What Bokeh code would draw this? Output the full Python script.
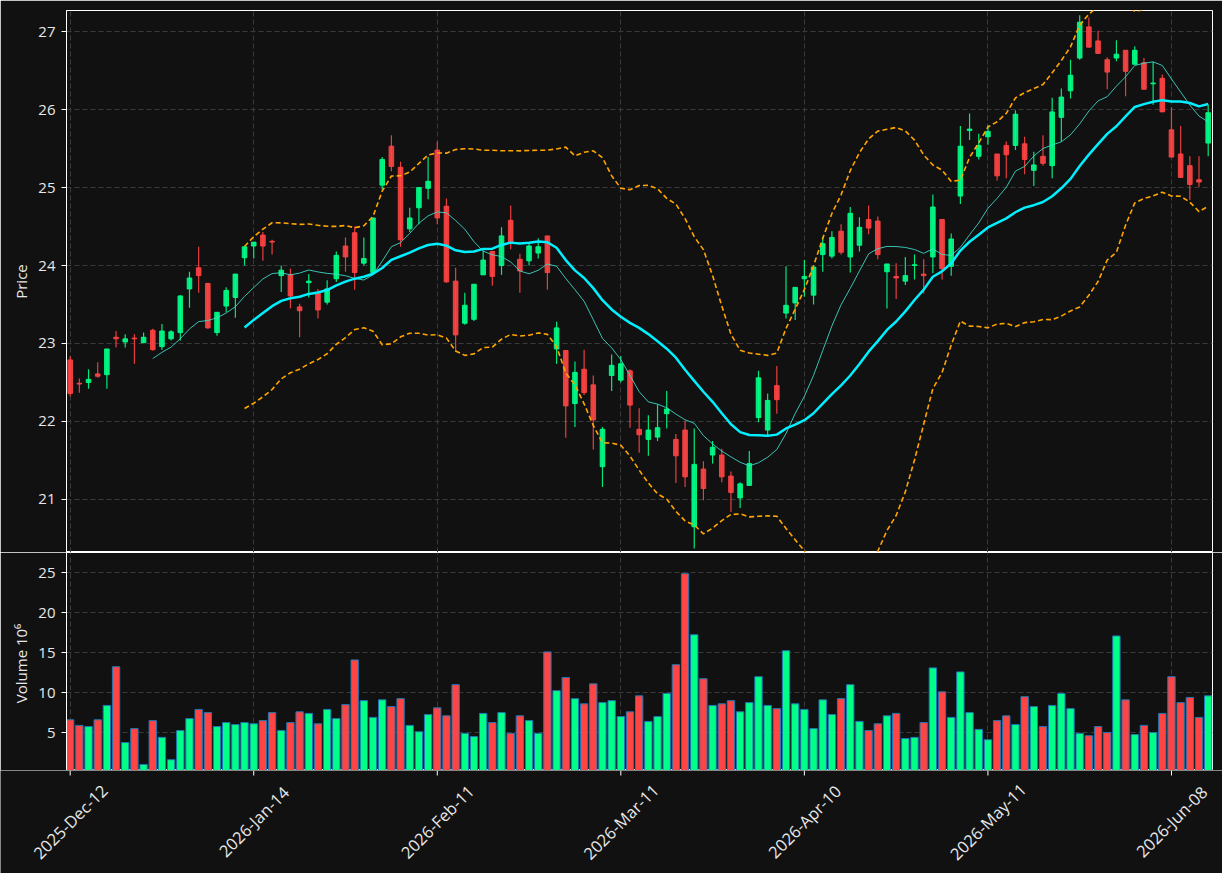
import numpy as np
import pandas as pd
from bokeh.plotting import figure
from bokeh.layouts import column
from bokeh.models import ColumnDataSource, FixedTicker, Range1d
from bokeh.core.properties import value
from bokeh.embed import file_html
from bokeh.resources import INLINE

# ---------------- data ----------------
opens = [22.79, 22.49, 22.50, 22.61, 22.60, 23.08, 23.02, 23.07, 23.01, 23.17,
         22.96, 23.06, 23.14, 23.70, 23.97, 23.77, 23.14, 23.48, 23.59, 24.10,
         24.25, 24.39, 24.31, 23.87, 23.88, 23.47, 23.78, 23.66, 23.53, 23.83,
         24.25, 24.42, 24.03, 23.91, 25.03, 25.53, 25.26, 24.47, 24.74, 24.99,
         25.48, 24.76, 23.80, 23.26, 23.31, 23.88, 24.18, 24.00, 24.58, 24.08,
         24.06, 24.16, 24.38, 22.93, 22.91, 22.23, 22.67, 22.47, 21.42, 22.59,
         22.53, 22.65, 21.90, 21.77, 21.80, 22.10, 21.77, 21.89, 20.65, 21.39,
         21.57, 21.57, 21.30, 21.02, 21.18, 22.05, 21.89, 22.46, 23.39, 23.52,
         23.83, 23.62, 24.14, 24.12, 24.44, 24.11, 24.26, 24.59, 24.57, 23.92,
         23.86, 23.80, 24.00, 23.89, 24.11, 24.59, 23.99, 24.89, 25.73, 25.40,
         25.65, 25.43, 25.54, 25.54, 25.56, 25.22, 25.40, 25.28, 25.90, 26.24,
         26.66, 27.06, 26.88, 26.64, 26.66, 26.76, 26.58, 26.60, 26.33, 26.40,
         25.74, 25.43, 25.28, 25.10, 25.57]
highs = [22.84, 22.55, 22.67, 22.76, 22.93, 23.16, 23.12, 23.12, 23.14, 23.19,
         23.25, 23.17, 23.62, 23.92, 24.24, 23.78, 23.40, 23.72, 23.89, 24.24,
         24.30, 24.43, 24.33, 24.00, 23.96, 23.51, 23.89, 23.70, 23.81, 24.18,
         24.36, 24.50, 24.36, 24.61, 25.39, 25.67, 25.33, 24.74, 25.00, 25.39,
         25.59, 24.86, 23.97, 23.65, 23.76, 24.19, 24.19, 24.49, 24.77, 24.15,
         24.29, 24.35, 24.38, 23.28, 22.91, 22.77, 22.92, 22.59, 21.93, 22.86,
         22.84, 22.67, 22.17, 22.08, 22.22, 22.39, 21.84, 22.01, 21.91, 21.49,
         21.75, 21.65, 21.36, 21.22, 21.62, 22.65, 22.36, 22.71, 23.99, 23.72,
         24.07, 23.98, 24.37, 24.44, 24.53, 24.75, 24.62, 24.77, 24.63, 24.02,
         24.03, 24.11, 24.14, 24.08, 24.91, 24.59, 24.41, 25.79, 25.95, 25.69,
         25.80, 25.43, 25.59, 25.99, 25.65, 25.46, 25.67, 26.15, 26.27, 26.64,
         27.21, 27.18, 27.01, 26.67, 26.89, 26.76, 26.81, 26.66, 26.61, 26.45,
         26.03, 25.79, 25.40, 25.40, 26.06]
lows = [22.32, 22.37, 22.42, 22.56, 22.42, 22.95, 22.95, 22.74, 23.01, 22.91,
        22.92, 23.04, 23.04, 23.46, 23.65, 23.19, 23.10, 23.40, 23.33, 24.00,
        24.09, 24.06, 24.14, 23.66, 23.45, 23.08, 23.59, 23.32, 23.50, 23.79,
        23.92, 23.69, 24.00, 23.88, 24.97, 25.21, 24.24, 24.43, 24.53, 24.85,
        24.53, 23.78, 22.89, 23.24, 23.29, 23.88, 23.74, 23.88, 24.21, 23.65,
        24.00, 24.09, 23.69, 22.74, 21.79, 21.93, 22.34, 21.64, 21.16, 22.39,
        22.50, 21.92, 21.60, 21.56, 21.75, 21.91, 21.21, 21.16, 20.37, 20.99,
        21.46, 21.22, 20.84, 20.89, 21.18, 21.99, 21.81, 22.10, 23.32, 23.30,
        23.60, 23.50, 23.92, 24.09, 24.14, 23.91, 24.18, 24.40, 24.08, 23.45,
        23.57, 23.75, 23.82, 23.64, 23.90, 23.82, 23.87, 24.79, 25.61, 25.36,
        25.55, 25.09, 25.12, 25.48, 25.17, 25.02, 25.28, 25.12, 25.59, 26.14,
        26.64, 26.80, 26.72, 26.26, 26.62, 26.17, 26.58, 26.26, 26.06, 25.97,
        25.39, 25.13, 24.84, 25.01, 25.40]
closes = [22.36, 22.48, 22.54, 22.58, 22.93, 23.06, 23.06, 23.06, 23.08, 22.92,
          23.16, 23.15, 23.61, 23.84, 23.87, 23.20, 23.40, 23.68, 23.89, 24.24,
          24.30, 24.25, 24.30, 23.94, 23.61, 23.42, 23.80, 23.43, 23.70, 24.13,
          24.11, 23.91, 24.09, 24.61, 25.36, 25.27, 24.33, 24.61, 25.00, 25.08,
          24.61, 23.79, 23.11, 23.49, 23.76, 24.07, 23.86, 24.38, 24.30, 23.93,
          24.25, 24.24, 23.91, 23.20, 22.20, 22.63, 22.37, 22.02, 21.90, 22.72,
          22.74, 22.21, 21.83, 21.89, 21.92, 22.16, 21.56, 21.29, 21.45, 21.14,
          21.67, 21.29, 21.09, 21.20, 21.46, 22.56, 22.27, 22.28, 23.49, 23.72,
          23.86, 23.98, 24.28, 24.36, 24.17, 24.67, 24.49, 24.48, 24.14, 24.02,
          23.84, 23.87, 24.01, 23.87, 24.75, 23.96, 24.34, 25.53, 25.75, 25.54,
          25.72, 25.15, 25.42, 25.94, 25.36, 25.29, 25.31, 25.97, 26.16, 26.44,
          27.12, 26.80, 26.72, 26.48, 26.71, 26.49, 26.76, 26.26, 26.34, 25.97,
          25.39, 25.13, 25.04, 25.07, 25.96]
volumes = [6.6, 5.9, 5.75, 6.6, 8.4, 13.25, 3.75, 5.5, 1.0, 6.5,
           4.4, 1.6, 5.25, 6.75, 7.9, 7.5, 5.75, 6.25, 6.0, 6.25,
           6.1, 6.5, 7.5, 5.25, 6.25, 7.6, 7.4, 6.1, 7.9, 6.75,
           8.5, 14.1, 9.0, 6.9, 9.1, 8.25, 9.25, 5.9, 5.1, 7.25,
           8.1, 7.1, 11.0, 4.9, 4.5, 7.4, 6.25, 7.5, 4.9, 7.1,
           6.5, 4.9, 15.1, 10.25, 11.9, 9.25, 8.6, 11.1, 8.75, 9.0,
           7.0, 7.6, 9.6, 6.4, 7.0, 9.9, 13.5, 24.9, 17.25, 11.75,
           8.4, 8.6, 9.0, 7.6, 8.75, 12.0, 8.4, 8.0, 15.25, 8.6,
           7.9, 5.5, 9.1, 7.25, 9.25, 11.0, 6.4, 5.25, 6.1, 7.1,
           7.4, 4.25, 4.4, 6.25, 13.1, 10.1, 6.9, 12.6, 7.5, 5.4,
           4.1, 6.5, 7.1, 6.0, 9.5, 8.25, 5.75, 8.4, 9.9, 8.0,
           4.9, 4.6, 5.75, 5.0, 17.1, 9.1, 4.75, 5.9, 5.0, 7.4,
           12.0, 8.75, 9.4, 6.9, 9.6]
tick_positions = [0, 20, 40, 60, 80, 100, 120]
tick_labels = ["2025-Dec-12", "2026-Jan-14", "2026-Feb-11", "2026-Mar-11",
               "2026-Apr-10", "2026-May-11", "2026-Jun-08"]
price_ticks = [21, 22, 23, 24, 25, 26, 27]
volume_ticks = [5, 10, 15, 20, 25]

# ---------------- derived series ----------------
n = len(closes)
xs = list(range(n))
UP, DOWN = "#00ff88", "#ff4444"
colors = [UP if c >= o else DOWN for o, c in zip(opens, closes)]
body_top = [max(o, c) for o, c in zip(opens, closes)]
body_bot = [min(o, c) for o, c in zip(opens, closes)]
cs = pd.Series(closes, dtype=float)
ma10 = cs.rolling(10).mean().to_numpy()
ma20 = cs.rolling(20).mean().to_numpy()
sd20 = cs.rolling(20).std().to_numpy()
upper = ma20 + 2 * sd20
lower = ma20 - 2 * sd20

src = ColumnDataSource(dict(x=xs, open=opens, high=highs, low=lows, close=closes,
                            top=body_top, bot=body_bot, color=colors, vol=volumes,
                            ma10=ma10, ma20=ma20, upper=upper, lower=lower))

BG = "#111111"
GRID = "#3a3a3a"
TXT = "#e8e8e8"
FONT = "Open Sans"
W = 1222
LEFT, RIGHT = 66, 10
X0, X1 = -0.4, 124.47
xr = Range1d(X0, X1)
PY0, PY1 = 20.32, 27.27
VY0, VY1 = 0.25, 27.55


def style_axis(ax):
    ax.axis_line_color = "white"
    ax.axis_line_width = 1
    ax.major_tick_line_color = "white"
    ax.major_tick_out = 5
    ax.major_tick_in = 0
    ax.minor_tick_line_color = None
    ax.major_label_text_color = TXT
    ax.major_label_text_font = FONT
    ax.major_label_text_font_size = "15px"
    ax.major_label_standoff = 6
    ax.axis_label_text_color = TXT
    ax.axis_label_text_font = FONT
    ax.axis_label_text_font_size = "15px"
    ax.axis_label_text_font_style = "normal"
    ax.axis_label_standoff = 4


def style_grids(p, yticks):
    p.xgrid.ticker = FixedTicker(ticks=tick_positions)
    p.ygrid.ticker = FixedTicker(ticks=yticks)
    for g in (p.xgrid[0], p.ygrid[0]):
        g.grid_line_color = GRID
        g.grid_line_dash = "5 3"
        g.grid_line_width = 1


# ---------------- price panel ----------------
p1 = figure(width=W, height=552, x_range=xr, y_range=Range1d(PY0, PY1),
            output_backend="svg", toolbar_location=None, x_axis_location=None,
            min_border_left=LEFT, min_border_right=RIGHT, min_border_top=10, min_border_bottom=0,
            background_fill_color=BG, border_fill_color=BG,
            outline_line_color="white", outline_line_width=1)
p1.yaxis.ticker = FixedTicker(ticks=price_ticks)
p1.yaxis.axis_label = "Price"
style_axis(p1.yaxis[0])
style_grids(p1, price_ticks)

p1.segment(x0="x", y0="high", x1="x", y1="low", source=src, line_color="color",
           line_width=1.2, line_alpha=0.9)
p1.vbar(x="x", width=0.5, top="top", bottom="bot", source=src, fill_color="color",
        line_color="color", line_width=1, fill_alpha=0.9, line_alpha=0.9)
p1.line(x="x", y="upper", source=src, line_color="#ffa500", line_width=1.6, line_dash="5 3")
p1.line(x="x", y="lower", source=src, line_color="#ffa500", line_width=1.6, line_dash="5 3")
p1.line(x="x", y="ma10", source=src, line_color="#40e0d0", line_width=1, line_alpha=0.85)
p1.line(x="x", y="ma20", source=src, line_color="#00f0ff", line_width=2.5)

# ---------------- volume panel ----------------
p2 = figure(width=W, height=218, x_range=xr, y_range=Range1d(VY0, VY1),
            output_backend="svg", toolbar_location=None, x_axis_location=None,
            min_border_left=LEFT, min_border_right=RIGHT, min_border_top=0, min_border_bottom=0,
            background_fill_color=BG, border_fill_color=BG,
            outline_line_color="white", outline_line_width=1)
p2.yaxis.ticker = FixedTicker(ticks=volume_ticks)
p2.yaxis.axis_label = "Volume  10\u2076"
style_axis(p2.yaxis[0])
style_grids(p2, volume_ticks)

p2.vbar(x="x", width=0.8, top="vol", bottom=0, source=src, fill_color="color",
        line_color="#1f77b4", line_width=1)

# ---------------- date axis strip (full width so rotated labels are not clipped) ----------------
upp = (X1 - X0) / (W - LEFT - RIGHT)
p3 = figure(width=W, height=103, x_range=Range1d(X0 - LEFT * upp, X1 + RIGHT * upp),
            y_range=Range1d(0, 103), output_backend="svg", toolbar_location=None,
            x_axis_location=None, y_axis_location=None,
            min_border_left=0, min_border_right=0, min_border_top=0, min_border_bottom=0,
            background_fill_color=BG, border_fill_color=BG, outline_line_color=None)
p3.frame_align = False
p3.xgrid.visible = False
p3.ygrid.visible = False
p3.segment(x0=tick_positions, y0=[103] * len(tick_positions), x1=tick_positions,
           y1=[98] * len(tick_positions), line_color="white", line_width=1)
p3.text(x=tick_positions, y=[52] * len(tick_positions), text=tick_labels, angle=np.pi / 4,
        text_align="center", text_baseline="middle", text_color=TXT,
        text_font=value(FONT), text_font_size=value("16.5px"))

layout = column(p1, p2, p3, spacing=0)
open("out.html", "w").write(file_html(layout, INLINE))
